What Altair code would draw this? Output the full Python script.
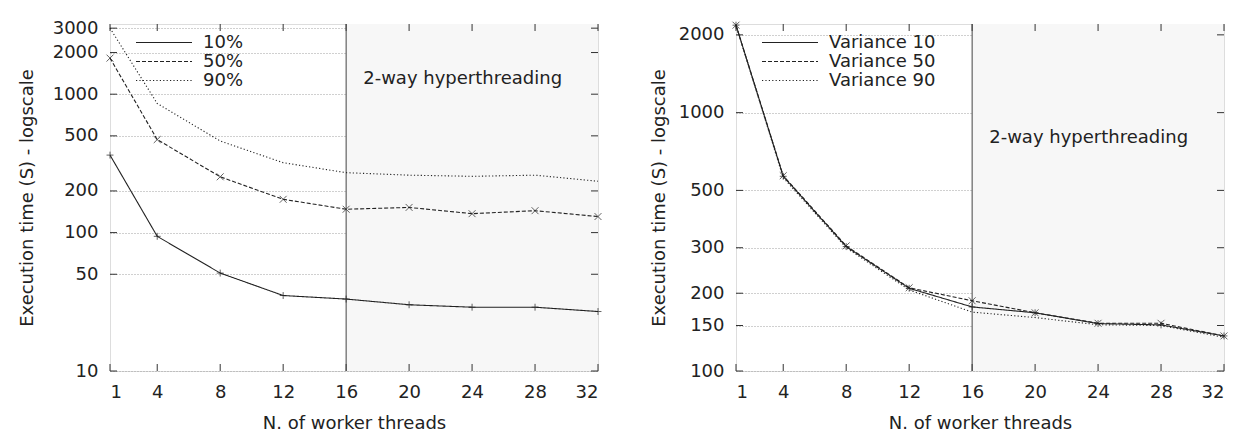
import altair as alt
import pandas as pd

threads = [1, 4, 8, 12, 16, 20, 24, 28, 32]
# left panel
p10 = [363, 94, 51, 35.1, 33.1, 30.1, 28.9, 28.9, 26.9]
p50 = [1823, 470, 253, 174, 147.5, 152, 137, 144, 130.6]
p90 = [3000, 857, 459, 320, 271, 260, 255, 260, 235]
left_names = ["10%", "50%", "90%"]
left_ticks = [10, 50, 100, 200, 500, 1000, 2000, 3000]
# right panel
v10 = [2180, 567, 303, 209, 177, 168, 152.6, 150.8, 136.7]
v50 = [2180, 570, 305, 210, 187, 168, 153, 153, 136.7]
v90 = [2180, 560, 300, 206, 169, 161, 151, 150, 135]
right_names = ["Variance 10", "Variance 50", "Variance 90"]
right_ticks = [100, 150, 200, 300, 500, 1000, 2000]

x_ticks = [1, 4, 8, 12, 16, 20, 24, 28, 32]
ht_start, ht_end = 16, 32
annot = "2-way hyperthreading"

W, H = 488, 347
FONT = "DejaVu Sans"
FS = 18
INK = "#222222"
PLUS = "M-1,0L1,0M0,-1L0,1"
CROSS = "M-1,-1L1,1M-1,1L1,-1"
LEGEND_LINE = "M-4,0L4,0"
TL = 7  # inner tick length


def panel(series, names, yticks, ydomain, ann_y, tpad):
    rows = []
    for name, vals in zip(names, series):
        for t, v in zip(threads, vals):
            rows.append({"threads": t, "time": v, "series": name})
    df = pd.DataFrame(rows)

    xs = alt.Scale(domain=[1, 32], nice=False, zero=False)
    ys = alt.Scale(type="log", domain=ydomain, nice=False)

    xaxis = alt.Axis(values=x_ticks, grid=False, tickSize=0, domain=False,
                     labelPadding=12, titlePadding=13, title="N. of worker threads",
                     labelFont=FONT, titleFont=FONT, labelFontSize=FS, titleFontSize=FS,
                     labelColor=INK, titleColor=INK, titleFontWeight="normal")
    yaxis = alt.Axis(values=yticks, grid=True, gridDash=[1, 2], gridColor="#a0a0a0",
                     tickSize=0, domain=False, labelPadding=12, format="d",
                     titlePadding=tpad, title="Execution time (S) - logscale",
                     labelFont=FONT, titleFont=FONT, labelFontSize=FS, titleFontSize=FS,
                     labelColor=INK, titleColor=INK, titleFontWeight="normal")

    X = lambda f: alt.X(f, scale=xs, axis=xaxis)
    Y = lambda f: alt.Y(f, scale=ys, axis=yaxis)

    shade = alt.Chart(pd.DataFrame({"a": [ht_start], "b": [ht_end]})).mark_rect(
        color="#f7f7f7").encode(x=X("a:Q"), x2="b:Q", y=alt.value(0), y2=alt.value(H))

    sym_len, sym_x, lab_x = 56, 24, 89
    r = sym_len / 8.0
    legend_x = sym_x + 3 * r
    lab_off = lab_x - legend_x - 2 * r

    lines = alt.Chart(df).mark_line(color=INK, strokeWidth=1.1).encode(
        x=X("threads:Q"),
        y=Y("time:Q"),
        strokeDash=alt.StrokeDash(
            "series:N",
            scale=alt.Scale(domain=names, range=[[1, 0], [4, 2], [1.2, 2.2]]),
            legend=alt.Legend(title=None, orient="none", legendX=legend_x, legendY=9.5,
                              symbolType=LEGEND_LINE, symbolSize=(2 * r) ** 2,
                              symbolStrokeColor=INK, symbolStrokeWidth=1.1,
                              symbolFillColor="transparent",
                              labelFont=FONT, labelFontSize=FS, labelColor=INK,
                              labelOffset=lab_off, rowPadding=1, padding=0)),
    )
    pts_df = df[df["series"] != names[2]]
    pts = alt.Chart(pts_df).mark_point(filled=False, size=48, strokeWidth=1,
                                        color=INK).encode(
        x=X("threads:Q"),
        y=Y("time:Q"),
        shape=alt.Shape("series:N",
                        scale=alt.Scale(domain=names[:2], range=[PLUS, CROSS]),
                        legend=None),
    )
    rule = alt.Chart(pd.DataFrame({"a": [ht_start]})).mark_rule(
        color="#444444", strokeWidth=1).encode(x=X("a:Q"))

    ann = alt.Chart(pd.DataFrame({"x": [23.4], "y": [ann_y], "t": [annot]})).mark_text(
        font=FONT, fontSize=FS, color=INK).encode(x=X("x:Q"), y=Y("y:Q"), text="t:N")

    ydf = pd.DataFrame({"v": yticks})
    xdf = pd.DataFrame({"v": x_ticks})
    tick_style = dict(color="#333333", strokeWidth=1)
    ytl = alt.Chart(ydf).mark_rule(**tick_style).encode(
        y=Y("v:Q"), x=alt.value(0), x2=alt.value(TL))
    ytr = alt.Chart(ydf).mark_rule(**tick_style).encode(
        y=Y("v:Q"), x=alt.value(W - TL), x2=alt.value(W))
    xtb = alt.Chart(xdf).mark_rule(**tick_style).encode(
        x=X("v:Q"), y=alt.value(H - TL), y2=alt.value(H))
    xtt = alt.Chart(xdf).mark_rule(**tick_style).encode(
        x=X("v:Q"), y=alt.value(0), y2=alt.value(TL))

    return alt.layer(shade, ytl, ytr, xtb, xtt, rule, lines, pts, ann).properties(
        width=W, height=H).resolve_scale(strokeDash="independent", shape="independent")


left = panel([p10, p50, p90], left_names, left_ticks, [10, 3215], 1285, 16)
right = panel([v10, v50, v90], right_names, right_ticks, [100, 2203], 801, 10)

chart = alt.hconcat(left, right, spacing=138, bounds="flush").resolve_scale(
    strokeDash="independent", shape="independent", x="independent", y="independent"
).configure_view(stroke="#333333", strokeWidth=1.2).configure(
    padding={"left": 9, "top": 10, "right": 0, "bottom": 0}, background="white")

chart.save("out.html", embed_options={"renderer": "svg", "actions": False})
